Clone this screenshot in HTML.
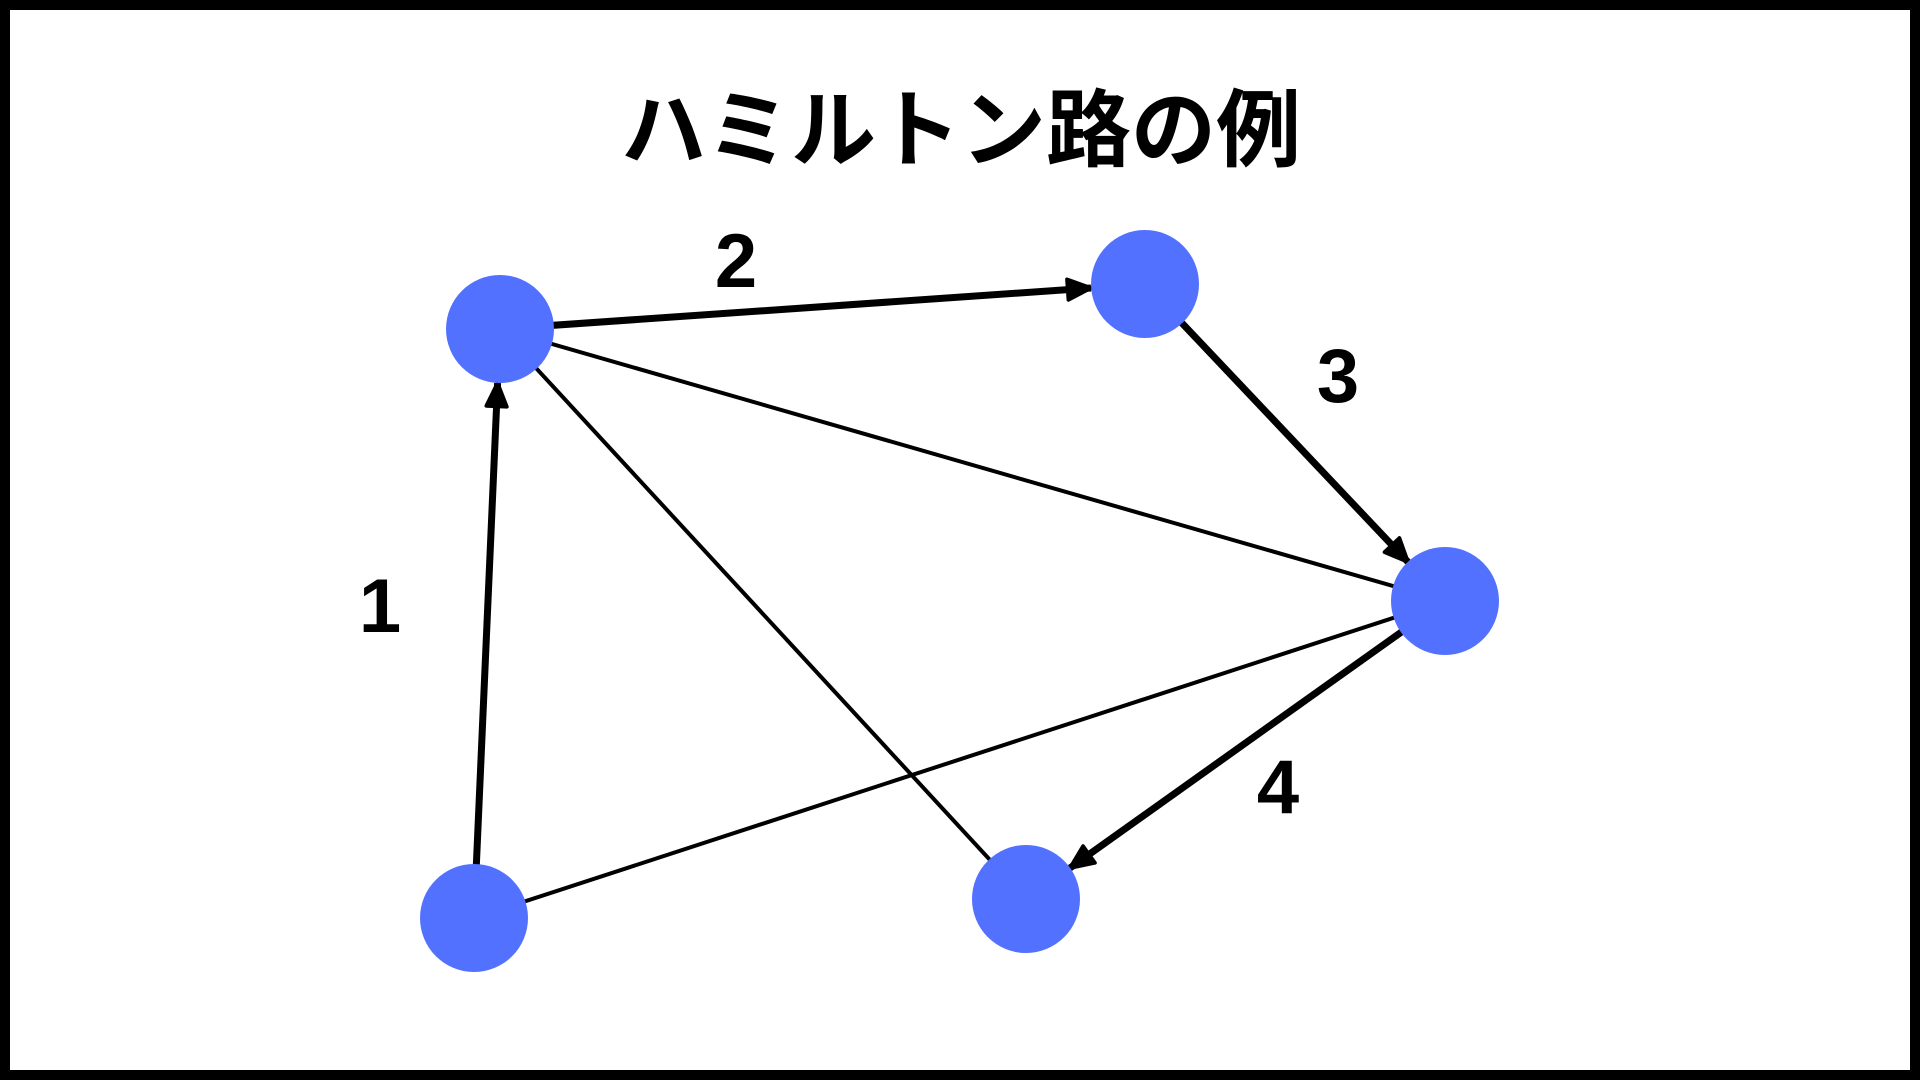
<!DOCTYPE html>
<html><head><meta charset="utf-8"><style>
html,body{margin:0;padding:0;width:1920px;height:1080px;overflow:hidden;background:#fff}
svg{display:block}
</style></head><body>
<svg width="1920" height="1080" viewBox="0 0 1920 1080" xmlns="http://www.w3.org/2000/svg">
<defs>
<marker id="ah" markerUnits="userSpaceOnUse" viewBox="0 0 30 30" refX="28" refY="15" markerWidth="28" markerHeight="28" orient="auto">
<path d="M3,4 L28,15 L3,26 Z" fill="#000" stroke="#000" stroke-width="4" stroke-linejoin="round"/>
</marker>
</defs>
<rect x="5" y="5" width="1910" height="1070" fill="#fff" stroke="#000" stroke-width="10"/>
<text x="961" y="160" text-anchor="middle" font-family="'Liberation Sans','Noto Sans CJK JP',sans-serif" font-weight="bold" font-size="85" fill="#000">ハミルトン路の例</text>
<g stroke="#000" stroke-width="4" fill="none">
<line x1="500" y1="329" x2="1445" y2="601"/>
<line x1="500" y1="329" x2="1026" y2="899"/>
<line x1="474" y1="918" x2="1445" y2="601"/>
</g>
<g stroke="#000" stroke-width="7" fill="none" marker-end="url(#ah)">
<line x1="474" y1="918" x2="497.6" y2="383"/>
<line x1="500" y1="329" x2="1091" y2="288"/>
<line x1="1145" y1="284" x2="1408" y2="562"/>
<line x1="1445" y1="601" x2="1070" y2="868"/>
</g>
<g fill="#5271ff">
<circle cx="500" cy="329" r="54"/>
<circle cx="1145" cy="284" r="54"/>
<circle cx="1445" cy="601" r="54"/>
<circle cx="474" cy="918" r="54"/>
<circle cx="1026" cy="899" r="54"/>
</g>
<g font-family="'Liberation Sans',sans-serif" font-weight="bold" font-size="76" fill="#000" text-anchor="middle">
<text x="380" y="632">1</text>
<text x="736" y="287">2</text>
<text x="1338" y="402">3</text>
<text x="1278" y="813">4</text>
</g>
</svg>
</body></html>
